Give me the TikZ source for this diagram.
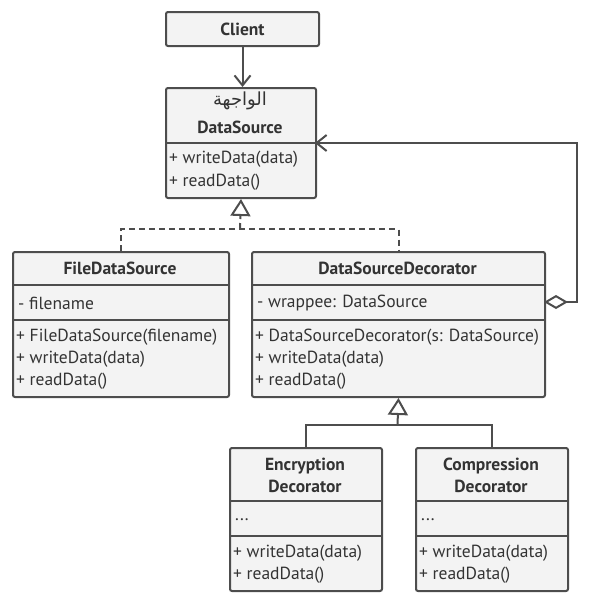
\documentclass[tikz,border=0pt]{standalone}
\usepackage{fontspec}
\setmainfont{PT Sans}
\newfontfamily\arabicfont[Script=Arabic]{DejaVu Sans}
\TeXXeTstate=1
\usetikzlibrary{arrows.meta}
\definecolor{ln}{HTML}{4D4D4D}
\definecolor{bx}{HTML}{F3F3F3}
\definecolor{tx}{HTML}{333333}
\tikzset{
  cls/.style={draw=ln, fill=bx, line width=2pt, rounded corners=2pt, inner sep=0pt, anchor=north west},
  sep/.style={draw=ln, line width=2pt},
  ttl/.style={font=\bfseries\fontsize{17.5}{22}\selectfont, text=tx, inner sep=0pt, align=center},
  row/.style={font=\fontsize{17.5}{22}\selectfont, text=tx, inner sep=0pt, anchor=west},
  conn/.style={draw=ln, line width=2pt},
  opena/.style={-{Straight Barb[length=10pt,width=16pt,line width=2pt]}},
  inh/.style={-{Triangle[open,length=17pt,width=20pt,line width=2pt,fill=white]}},
  dsh/.style={dash pattern=on 6pt off 4pt}
}
\begin{document}
\begin{tikzpicture}[x=1pt,y=-1pt]
\useasboundingbox (0,0) rectangle (589,600);
% Client
\node[cls, minimum width=153pt, minimum height=34pt] (client) at (165,11) {};
\node[ttl] (clientT) at (client.center) {Client};
% DataSource
\node[cls, minimum width=150pt, minimum height=110pt] (ds) at (165,87) {};
\draw[sep] (165,143) -- (315,143);
\node[font=\fontsize{18}{22}\selectfont, text=tx, inner sep=0pt] (dsA) at (240,101) {\arabicfont\beginR الواجهة\endR};
\node[ttl] (dsT) at (240,127) {DataSource};
\node[row] (ds1) at (169,159) {+ writeData(data)};
\node[row] (ds2) at (169,182) {+ readData()};
% FileDataSource
\node[cls, minimum width=216pt, minimum height=145pt] (fds) at (12,251) {};
\draw[sep] (12,285) -- (228,285);
\draw[sep] (12,320) -- (228,320);
\node[ttl] (fdsT) at (120,268) {FileDataSource};
\node[row] (fds0) at (18,303) {- filename};
\node[row] (fds1) at (16,337) {+ FileDataSource(filename)};
\node[row] (fds2) at (16,359) {+ writeData(data)};
\node[row] (fds3) at (16,381) {+ readData()};
% DataSourceDecorator
\node[cls, minimum width=293pt, minimum height=145pt] (dsd) at (251,251) {};
\draw[sep] (251,285) -- (544,285);
\draw[sep] (251,320) -- (544,320);
\node[ttl] (dsdT) at (397.5,268) {DataSourceDecorator};
\node[row] (dsd0) at (257,303) {- wrappee: DataSource};
\node[row] (dsd1) at (255,337) {+ DataSourceDecorator(s: DataSource)};
\node[row] (dsd2) at (255,359) {+ writeData(data)};
\node[row] (dsd3) at (255,381) {+ readData()};
% Encryption
\node[cls, minimum width=152pt, minimum height=143pt] (enc) at (229,447) {};
\draw[sep] (229,501) -- (381,501);
\draw[sep] (229,536) -- (381,536);
\node[ttl] (encT) at (305,475) {Encryption\\Decorator};
\node[row] (enc0) at (235,520) {...};
\node[row] (enc1) at (233,553) {+ writeData(data)};
\node[row] (enc2) at (233,575) {+ readData()};
% Compression
\node[cls, minimum width=152pt, minimum height=143pt] (cmp) at (415,447) {};
\draw[sep] (415,501) -- (567,501);
\draw[sep] (415,536) -- (567,536);
\node[ttl] (cmpT) at (491,475) {Compression\\Decorator};
\node[row] (cmp0) at (421,520) {...};
\node[row] (cmp1) at (419,553) {+ writeData(data)};
\node[row] (cmp2) at (419,575) {+ readData()};
% connectors
\draw[conn, opena] (client.south) -- (client.south |- ds.north);
\coordinate (j1) at (240,229);
\draw[conn, dsh] (fds.north) |- (j1) -| (dsd.north);
\draw[conn, dsh, inh] (j1) -- (ds.south);
\coordinate (j2) at (397.5,425);
\draw[conn] (enc.north) |- (j2) -| (cmp.north);
\draw[conn, inh] (j2) -- (dsd.south);
\coordinate (ag) at (544,302);
\coordinate (ct) at (577,143);
\coordinate (dsE) at (315,143);
\draw[conn, {Diamond[open,length=24pt,width=14pt,line width=2pt,fill=white]}-{Straight Barb[length=10pt,width=16pt,line width=2pt]}] (ag) -| (ct) -- (dsE);
\end{tikzpicture}
\end{document}
